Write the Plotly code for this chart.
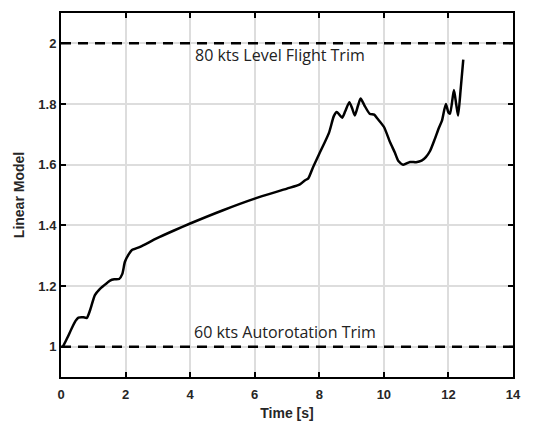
import plotly.graph_objects as go

time_s = [0.06, 0.2, 0.33, 0.45, 0.54, 0.69, 0.8, 0.9, 1.05, 1.2, 1.31, 1.52, 1.65, 1.8, 1.9, 1.98,
          2.1, 2.19, 2.45, 2.96, 3.5, 4.0, 5.0, 6.0, 7.0, 7.4, 7.55, 7.66, 7.8, 8.0, 8.3, 8.45,
          8.54, 8.62, 8.71, 8.8, 8.93, 9.02, 9.1, 9.2, 9.28, 9.4, 9.56, 9.7, 9.8, 10.0, 10.2,
          10.34, 10.45, 10.6, 10.81, 11.0, 11.17, 11.3, 11.43, 11.58, 11.7, 11.8, 11.92, 12.0,
          12.05, 12.17, 12.24, 12.3, 12.38, 12.46]
linear_model = [1.0, 1.03, 1.06, 1.085, 1.096, 1.097, 1.095, 1.12, 1.17, 1.19, 1.20, 1.218, 1.222,
                1.223, 1.24, 1.28, 1.305, 1.318, 1.329, 1.357, 1.383, 1.406, 1.449, 1.488, 1.521,
                1.535, 1.548, 1.555, 1.59, 1.636, 1.705, 1.76, 1.774, 1.765, 1.755, 1.775, 1.806,
                1.785, 1.762, 1.795, 1.818, 1.795, 1.768, 1.765, 1.752, 1.725, 1.672, 1.64, 1.612,
                1.60, 1.609, 1.608, 1.613, 1.625, 1.645, 1.685, 1.72, 1.745, 1.80, 1.772, 1.768,
                1.846, 1.80, 1.762, 1.85, 1.946]

trim_levels = [1.0, 2.0]
trim_labels = ["60 kts Autorotation Trim", "80 kts Level Flight Trim"]
trim_label_x = [6.93, 6.78]
trim_label_y = [1.05, 1.962]

x_ticks = [0, 2, 4, 6, 8, 10, 12, 14]
y_ticks = [1, 1.2, 1.4, 1.6, 1.8, 2]
y_tick_text = ["1", "1.2", "1.4", "1.6", "1.8", "2"]

fig = go.Figure()

for lvl in trim_levels:
    fig.add_trace(go.Scatter(x=[0, 14], y=[lvl, lvl], mode="lines",
                             line=dict(color="black", width=2.5, dash="10px,7px"),
                             showlegend=False, hoverinfo="skip"))

fig.add_trace(go.Scatter(x=time_s, y=linear_model, mode="lines",
                         line=dict(color="black", width=2.5, shape="spline", smoothing=0.6),
                         showlegend=False))

for txt, tx, ty in zip(trim_labels, trim_label_x, trim_label_y):
    fig.add_annotation(x=tx, y=ty, text=txt, showarrow=False,
                       font=dict(family="Open Sans", size=16, color="#222222"))

tick_font = dict(family="Liberation Sans", size=13, color="#262626", weight="bold")
axis_common = dict(showline=True, linecolor="black", linewidth=2, mirror="ticks",
                   ticks="inside", ticklen=5, tickwidth=2, tickcolor="black",
                   showgrid=True, gridcolor="#dddddd", gridwidth=1.5, zeroline=False,
                   automargin=False, tickfont=tick_font)

fig.update_xaxes(range=[0, 14], tickvals=x_ticks, **axis_common, ticklabelstandoff=4,
                 title=dict(text="<b>Time [s]</b>", standoff=10,
                            font=dict(family="Liberation Sans", size=14, color="#262626")))
fig.update_yaxes(range=[0.9, 2.1], tickvals=y_ticks, ticktext=y_tick_text, **axis_common,
                 title=dict(text="<b>Linear Model</b>", standoff=10,
                            font=dict(family="Liberation Sans", size=14, color="#262626")))

fig.update_layout(width=526, height=413, plot_bgcolor="white", paper_bgcolor="white",
                  margin=dict(l=53, r=21, t=5, b=44))

fig.write_html("out.html")
